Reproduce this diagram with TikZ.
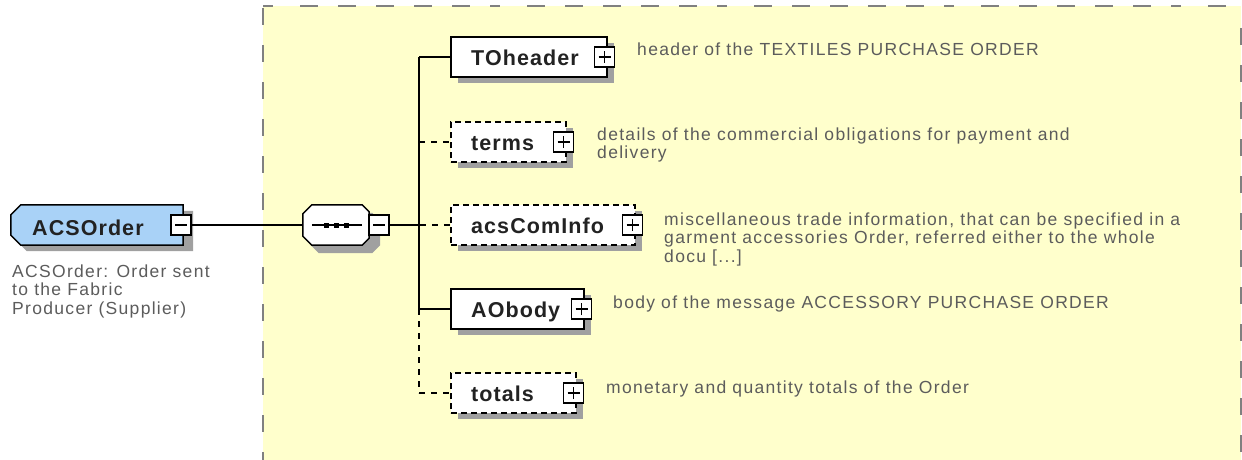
\documentclass[tikz,border=0pt]{standalone}
\usepackage{fontspec}
\setmainfont{Liberation Sans}
\newfontfamily\descfont[LetterSpace=7.5]{Liberation Sans}
\newfontfamily\lblfont[LetterSpace=5]{Liberation Sans}
\usetikzlibrary{shadows}
\definecolor{areafill}{HTML}{FFFFCC}
\definecolor{areaborder}{HTML}{808080}
\definecolor{elemblue}{HTML}{A9D2F7}
\definecolor{shadowgray}{HTML}{A0A0A0}
\definecolor{descgray}{HTML}{5C5C5C}
\definecolor{lblcolor}{HTML}{222222}
\begin{document}
\begin{tikzpicture}[x=1pt,y=-1pt,
  boxshadow/.style={general shadow={fill=shadowgray, shadow xshift=7pt, shadow yshift=-6pt}},
  elembox/.style={draw, fill=white, line width=1.5pt, rectangle, inner sep=0pt, minimum height=40pt, boxshadow},
  optbox/.style={elembox, dash pattern=on 6pt off 4pt},
  anchorbox/.style={rectangle, inner sep=0pt, minimum height=40pt},
  pmbox/.style={draw, fill=white, line width=1.3pt, rectangle, inner sep=0pt, minimum size=20pt},
  plusbox/.style={pmbox, path picture={\draw[line width=1.3pt] ([xshift=-6pt]path picture bounding box.center) -- ([xshift=6pt]path picture bounding box.center) ([yshift=-6pt]path picture bounding box.center) -- ([yshift=6pt]path picture bounding box.center);}},
  minusbox/.style={pmbox, path picture={\draw[line width=1.3pt] ([xshift=-6pt]path picture bounding box.center) -- ([xshift=6pt]path picture bounding box.center);}},
  lbl/.style={font=\lblfont\bfseries\fontsize{21.5pt}{24pt}\selectfont, text=lblcolor, inner sep=0pt, anchor=base west},
  desc/.style={font=\descfont\fontsize{17.5pt}{18.5pt}\selectfont, text=descgray, inner sep=0pt, anchor=base west},
  conn/.style={line width=1.5pt},
  optconn/.style={line width=1.5pt, dash pattern=on 6pt off 6pt}
]
\useasboundingbox (0,0) rectangle (1242,460);
\fill[white] (0,0) rectangle (1242,460);
% content area
\fill[areafill] (263,6) rectangle (1241,460);
\draw[areaborder, line width=2pt, dash pattern=on 17pt off 20pt] (263,8) -- (263,460);
\draw[areaborder, line width=2pt, dash pattern=on 10pt off 27pt on 18pt off 20pt on 18pt off 20pt on 18pt off 20pt on 18pt off 20pt on 18pt off 20pt] (263,6) -- (1242,6);
\draw[areaborder, line width=2pt, dash pattern=on 17pt off 20pt] (1241,28) -- (1241,460);

% root element (chamfered on the left)
\node[anchorbox, minimum width=172pt] (acs) at (97,225) {};
\fill[shadowgray] ([shift={(16,6)}]acs.north west) -- ([shift={(10,6)}]acs.north east) -- ([shift={(10,6)}]acs.south east) -- ([shift={(16,6)}]acs.south west) -- ([shift={(6,-4)}]acs.south west) -- ([shift={(6,16)}]acs.north west) -- cycle;
\draw[fill=elemblue, line width=1.5pt] ([xshift=10pt]acs.north west) -- (acs.north east) -- (acs.south east) -- ([xshift=10pt]acs.south west) -- ([yshift=10pt]acs.south west) -- ([yshift=-10pt]acs.north west) -- cycle;
\node[lbl] (acsl) at (32,235) {ACSOrder};
\node[minusbox] (acsm) at (181,225) {};
\node[desc] (acsd) at (12,277) {\vtop{\hbox{ACSOrder: Order sent}\hbox{to the Fabric}\hbox{Producer (Supplier)}}};

% sequence compositor (octagon)
\node[anchorbox, minimum width=66pt] (seq) at (336,225) {};
\fill[shadowgray] ([shift={(16,8)}]seq.north west) -- ([shift={(3,8)}]seq.north east) -- ([shift={(11,16)}]seq.north east) -- ([shift={(11,0)}]seq.south east) -- ([shift={(3,8)}]seq.south east) -- ([shift={(16,8)}]seq.south west) -- ([shift={(7,-1)}]seq.south west) -- ([shift={(7,17)}]seq.north west) -- cycle;
\draw[fill=white, line width=1.5pt] ([xshift=9pt]seq.north west) -- ([xshift=-7pt]seq.north east) -- ([yshift=-7pt]seq.north east) -- ([yshift=7pt]seq.south east) -- ([xshift=-7pt]seq.south east) -- ([xshift=9pt]seq.south west) -- ([yshift=9pt]seq.south west) -- ([yshift=-9pt]seq.north west) -- cycle;
\draw[line width=1.5pt] ([xshift=9pt]seq.west) -- ([xshift=-7pt]seq.east);
\foreach \dx in {-10,0,10} \fill ([xshift=\dx pt-2.5pt,yshift=-2.5pt]seq.center) rectangle ([xshift=\dx pt+2.5pt,yshift=2.5pt]seq.center);
\node[minusbox] (seqm) at (379,225) {};

% connectors root -> compositor -> spine
\draw[conn] (acsm.east) -- (seq.west);
\coordinate (spmid) at (419,225);
\coordinate (sptop) at (419,57);
\coordinate (spao) at (419,309);
\coordinate (spbot) at (419,393);
\draw[conn] (seqm.east) -- (spmid);
\draw[conn] (sptop) -- (spao);
\draw[optconn] (spao) -- (spbot);

% children
\node[elembox, minimum width=156pt] (toh) at (529,57) {};
\node[plusbox] (tohp) at (604.5,57) {};
\node[lbl] (tohl) at (471,65.5) {TOheader};
\node[desc] (tohd) at (637,56) {header of the TEXTILES PURCHASE ORDER};

\node[optbox, minimum width=115pt] (terms) at (508.5,142) {};
\node[plusbox] (termsp) at (563.5,142) {};
\node[lbl] (termsl) at (471,150.5) {terms};
\node[desc] (termsd) at (597,140) {\vtop{\hbox{details of the commercial obligations for payment and}\hbox{delivery}}};

\node[optbox, minimum width=184pt] (aci) at (543,225) {};
\node[plusbox] (acip) at (632.5,225) {};
\node[lbl] (acil) at (471,233.5) {acsComInfo};
\node[desc] (acid) at (664,225) {\vtop{\hbox{miscellaneous trade information, that can be specified in a}\hbox{garment accessories Order, referred either to the whole}\hbox{docu [...]}}};

\node[elembox, minimum width=133pt] (aob) at (517.5,309) {};
\node[plusbox] (aobp) at (581.5,309) {};
\node[lbl] (aobl) at (471,317.5) {AObody};
\node[desc] (aobd) at (613,308) {body of the message ACCESSORY PURCHASE ORDER};

\node[optbox, minimum width=125pt] (tot) at (513.5,393) {};
\node[plusbox] (totp) at (573.5,393) {};
\node[lbl] (totl) at (471,401.5) {totals};
\node[desc] (totd) at (606,393) {monetary and quantity totals of the Order};

% spine connectors
\draw[conn] (sptop) -- (toh.west);
\draw[optconn] (sptop |- terms.west) -- (terms.west);
\draw[optconn] ([xshift=0.75pt]spmid) -- (aci.west);
\draw[conn] (spao) -- (aob.west);
\draw[optconn] (spbot) -- (tot.west);
\end{tikzpicture}
\end{document}
